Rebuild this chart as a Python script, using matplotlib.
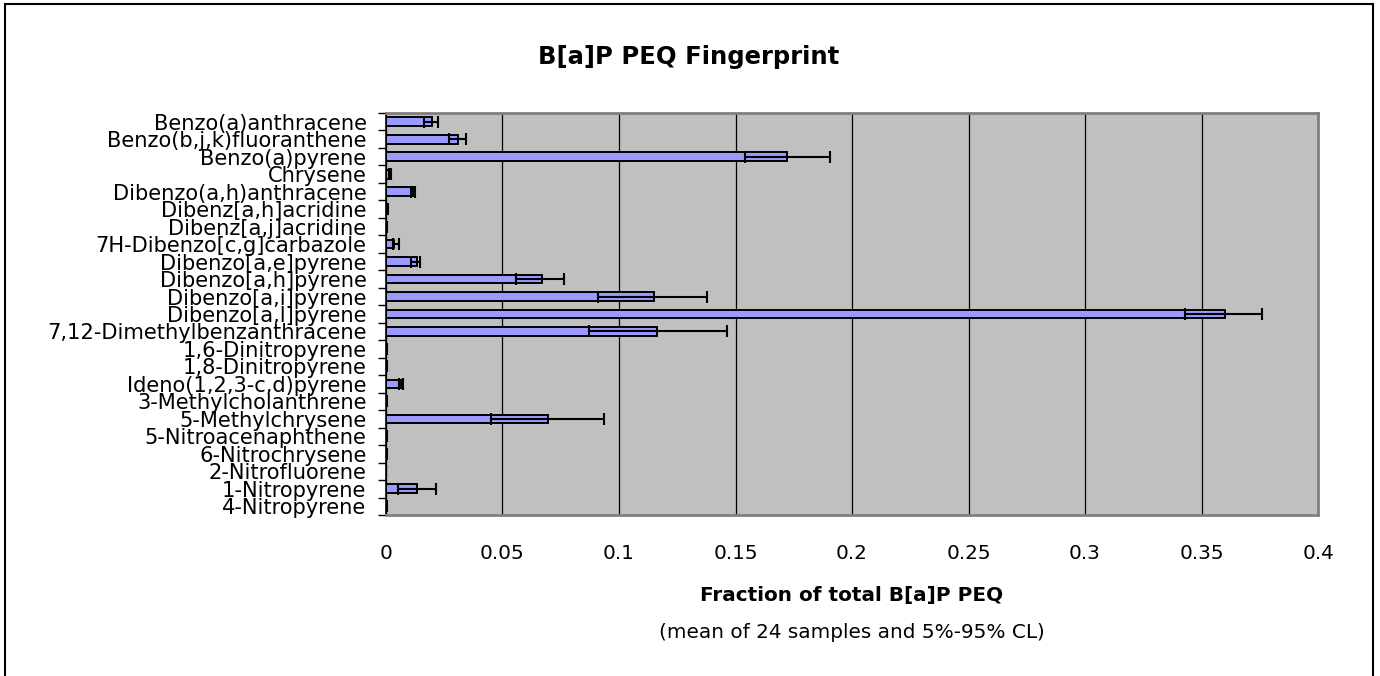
import matplotlib
matplotlib.use("Agg")
import matplotlib.pyplot as plt
import numpy as np
from matplotlib.patches import Rectangle
from matplotlib.ticker import FixedLocator

categories = [
    "Benzo(a)anthracene", "Benzo(b,j,k)fluoranthene", "Benzo(a)pyrene", "Chrysene",
    "Dibenzo(a,h)anthracene", "Dibenz[a,h]acridine", "Dibenz[a,j]acridine",
    "7H-Dibenzo[c,g]carbazole", "Dibenzo[a,e]pyrene", "Dibenzo[a,h]pyrene",
    "Dibenzo[a,i]pyrene", "Dibenzo[a,l]pyrene", "7,12-Dimethylbenzanthracene",
    "1,6-Dinitropyrene", "1,8-Dinitropyrene", "Ideno(1,2,3-c,d)pyrene",
    "3-Methylcholanthrene", "5-Methylchrysene", "5-Nitroacenaphthene",
    "6-Nitrochrysene", "2-Nitrofluorene", "1-Nitropyrene", "4-Nitropyrene",
]
mean_values = [0.0196, 0.031, 0.172, 0.0015, 0.0117, 0.0008, 0.0002, 0.0036,
               0.0132, 0.0668, 0.1149, 0.360, 0.1165, 0.0002, 0.0002, 0.0063,
               0.0003, 0.0697, 0.0002, 0.0003, 0.0001, 0.0132, 0.0002]
lower_cl = [0.0163, 0.0272, 0.154, 0.0012, 0.0106, 0.0006, 0.0001, 0.0031,
            0.0107, 0.0558, 0.0911, 0.343, 0.0871, 0.0001, 0.0001, 0.0056,
            0.0002, 0.0451, 0.0001, 0.0002, 0.0001, 0.0050, 0.0001]
upper_cl = [0.0222, 0.0343, 0.1906, 0.0020, 0.0123, 0.0010, 0.0003, 0.0057,
            0.0147, 0.0763, 0.1379, 0.376, 0.1462, 0.0003, 0.0003, 0.0074,
            0.0004, 0.0934, 0.0003, 0.0004, 0.0002, 0.0215, 0.0003]
x_ticks = [0, 0.05, 0.1, 0.15, 0.2, 0.25, 0.3, 0.35, 0.4]
x_tick_labels = ["0", "0.05", "0.1", "0.15", "0.2", "0.25", "0.3", "0.35", "0.4"]

plt.rcParams['font.family'] = ['DejaVu Sans']

W, H = 1380, 676
fig = plt.figure(figsize=(W / 100, H / 100), dpi=100)
fig.patch.set_facecolor("white")

# outer chart border
fig.add_artist(Rectangle((5 / W, -0.02), (1373 - 5) / W, 1 - 4 / H + 0.02,
                         transform=fig.transFigure, fill=False,
                         edgecolor="black", linewidth=1.5))

left, right, top, bottom = 386, 1318, 113, 515
ax = fig.add_axes([left / W, 1 - bottom / H, (right - left) / W, (bottom - top) / H])
ax.set_facecolor("#C0C0C0")

n = len(categories)
y = np.arange(n)
mean = np.array(mean_values)
xerr = np.array([mean - np.array(lower_cl), np.array(upper_cl) - mean])

ax.barh(y, mean, height=0.5, color="#9999FF", edgecolor="black", linewidth=1.4, zorder=3)
ax.errorbar(mean, y, xerr=xerr, fmt="none", ecolor="black", elinewidth=1.5,
            capsize=4.3, capthick=1.5, zorder=4)

ax.set_ylim(n - 0.5, -0.5)
ax.set_xlim(0, 0.4)
ax.set_xticks(x_ticks)
ax.set_xticklabels(x_tick_labels, fontsize=14.4)
ax.tick_params(axis="x", length=0, pad=21)
ax.set_yticks(y)
ax.set_yticklabels(categories, fontsize=15.1)
ax.yaxis.set_minor_locator(FixedLocator(np.arange(n + 1) - 0.5))
ax.tick_params(axis="y", which="major", length=0, pad=14)
ax.tick_params(axis="y", which="minor", length=6, width=1, color="black", direction="out")
ax.grid(axis="x", color="black", linewidth=0.9, zorder=1)
ax.set_axisbelow(True)

for s in ["top", "right", "bottom"]:
    ax.spines[s].set_color("#808080")
    ax.spines[s].set_linewidth(2)
ax.spines["left"].set_color("black")
ax.spines["left"].set_linewidth(1.2)

fig.text(689 / W, 1 - 57 / H, "B[a]P PEQ Fingerprint", ha="center", va="center",
         fontsize=17.5, fontweight="bold")
fig.text(852 / W, 1 - 595 / H, "Fraction of total B[a]P PEQ", ha="center", va="center",
         fontsize=14.4, fontweight="bold")
fig.text(852 / W, 1 - 632 / H, "(mean of 24 samples and 5%-95% CL)", ha="center", va="center",
         fontsize=14.4)

fig.savefig("out.png", dpi=100, facecolor="white")
